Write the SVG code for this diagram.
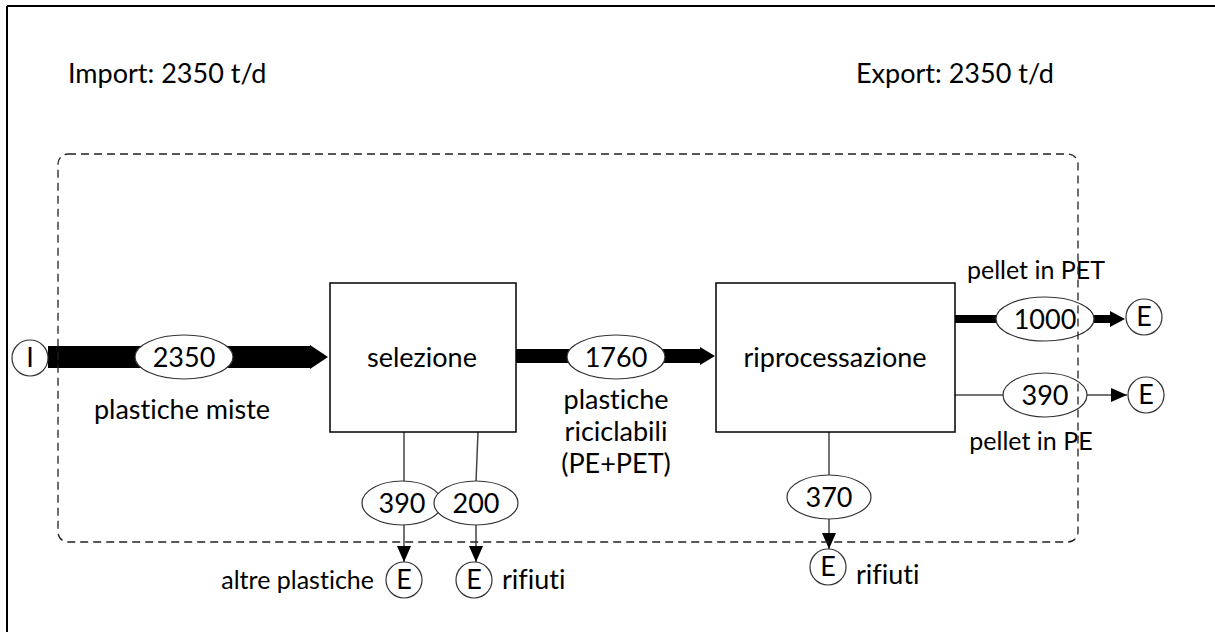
<svg xmlns="http://www.w3.org/2000/svg" width="1215" height="632" viewBox="0 0 1215 632">
  <defs>
    <style>
      text { font-family: Lato, "Liberation Sans", Arial, sans-serif; font-size: 27px; fill: #000; font-variant-ligatures: none; }
      .c { text-anchor: middle; }
      .sm { font-size: 25px; }
      .box { fill: #fff; stroke: #000; stroke-width: 1.5; }
      .oval { fill: #fff; stroke: #333; stroke-width: 1.2; }
      .term { fill: #fff; stroke: #333; stroke-width: 1.2; }
      .thin { stroke: #444; stroke-width: 1.5; fill: none; }
      .fat { fill: #000; stroke: none; }
      .bound { fill: none; stroke: #222; stroke-width: 1.3; stroke-dasharray: 8 5; }
    </style>
    <marker id="ahs" viewBox="0 0 16 14" refX="16" refY="7" markerWidth="16" markerHeight="14" markerUnits="userSpaceOnUse" orient="auto">
      <path d="M0,0 L16,7 L0,14 Z" fill="#000"/>
    </marker>
  </defs>

  <!-- frame (top and left edges) -->
  <path d="M7,6 H1215 M7,6 V632" stroke="#000" stroke-width="2" fill="none"/>

  <text x="68" y="83">Import: 2350 t/d</text>
  <text x="856" y="83">Export: 2350 t/d</text>

  <g id="connectors">
    <path class="fat" d="M48,346 H310 V345 L328,357 L310,369 V368 H48 Z"/>
    <path class="fat" d="M516,349 H700 V347 L715,356 L700,365 V363 H516 Z"/>
    <path class="fat" d="M955,315 H1110 V311 L1125,319 L1110,327 V323 H955 Z"/>
    <line class="thin" x1="955" y1="395" x2="1127" y2="395" marker-end="url(#ahs)"/>
    <line class="thin" x1="404" y1="432" x2="404" y2="562" marker-end="url(#ahs)"/>
    <path class="thin" d="M478,432 L476,482 V562" marker-end="url(#ahs)"/>
    <line class="thin" x1="829" y1="432" x2="829" y2="549" marker-end="url(#ahs)"/>
  </g>

  <g id="node-I">
    <circle class="term" cx="30" cy="358" r="18"/>
    <text class="c" x="30" y="367">I</text>
  </g>

  <g id="node-selezione">
    <rect class="box" x="330" y="283" width="186" height="149"/>
    <text class="c" x="422" y="367">selezione</text>
  </g>

  <g id="node-riprocessazione">
    <rect class="box" x="716" y="283" width="239" height="149"/>
    <text class="c" x="835" y="367">riprocessazione</text>
  </g>

  <g id="flow-2350">
    <ellipse class="oval" cx="184" cy="357" rx="49" ry="22"/>
    <text class="c" x="184" y="367">2350</text>
    <text class="c" x="182" y="419">plastiche miste</text>
  </g>

  <g id="flow-1760">
    <ellipse class="oval" cx="616" cy="357" rx="49" ry="22"/>
    <text class="c" x="616" y="367">1760</text>
    <text class="c" x="616" y="409">plastiche</text>
    <text class="c" x="616" y="441">riciclabili</text>
    <text class="c" x="616" y="473">(PE+PET)</text>
  </g>

  <g id="flow-1000">
    <ellipse class="oval" cx="1045" cy="319" rx="49" ry="22"/>
    <text class="c" x="1045" y="329">1000</text>
    <text class="c sm" x="1036" y="279">pellet in PET</text>
  </g>

  <g id="flow-390-pe">
    <ellipse class="oval" cx="1045" cy="395" rx="42" ry="22"/>
    <text class="c" x="1045" y="405">390</text>
    <text class="c sm" x="1031" y="450">pellet in PE</text>
  </g>

  <g id="flow-390-altre">
    <ellipse class="oval" cx="402" cy="503" rx="40" ry="22"/>
    <text class="c" x="402" y="513">390</text>
  </g>

  <g id="flow-200">
    <ellipse class="oval" cx="476" cy="503" rx="42" ry="22"/>
    <text class="c" x="476" y="513">200</text>
  </g>

  <g id="flow-370">
    <ellipse class="oval" cx="829" cy="497" rx="42" ry="22"/>
    <text class="c" x="829" y="507">370</text>
  </g>

  <g id="node-E-pet">
    <circle class="term" cx="1144" cy="317" r="18"/>
    <text class="c" x="1144" y="326">E</text>
  </g>

  <g id="node-E-pe">
    <circle class="term" cx="1146" cy="395" r="18"/>
    <text class="c" x="1146" y="404">E</text>
  </g>

  <g id="node-E-altre">
    <circle class="term" cx="404" cy="580" r="18"/>
    <text class="c" x="404" y="589">E</text>
    <text class="sm" x="374" y="589" text-anchor="end">altre plastiche</text>
  </g>

  <g id="node-E-rifiuti-1">
    <circle class="term" cx="474" cy="580" r="18"/>
    <text class="c" x="474" y="589">E</text>
    <text x="502" y="589">rifiuti</text>
  </g>

  <g id="node-E-rifiuti-2">
    <circle class="term" cx="828" cy="567" r="18"/>
    <text class="c" x="828" y="576">E</text>
    <text x="856" y="584">rifiuti</text>
  </g>

  <rect class="bound" x="58" y="154" width="1020" height="388" rx="10" ry="10"/>
</svg>
